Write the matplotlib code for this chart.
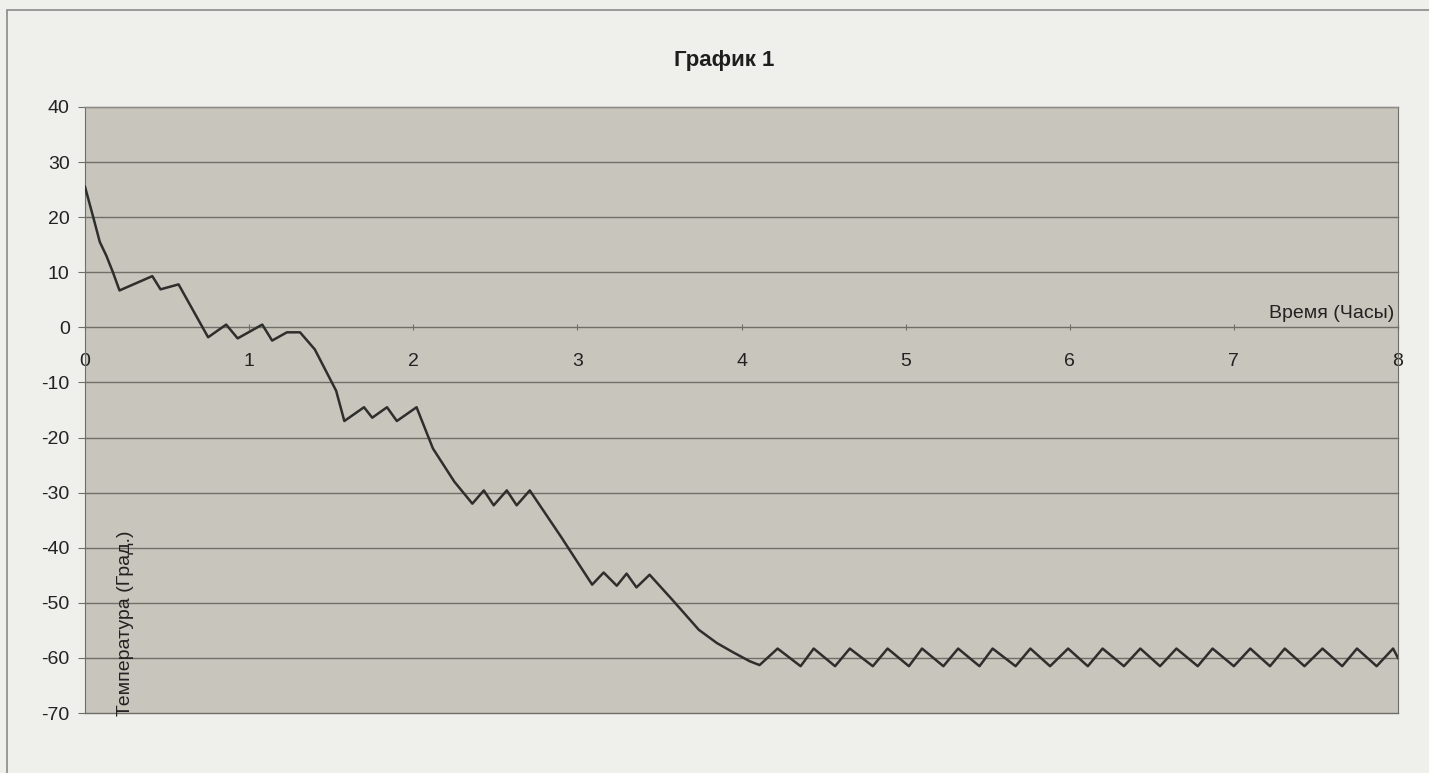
import matplotlib.pyplot as plt
from matplotlib.patches import Rectangle

# Temperature curve (hours, degrees)
time_h = [
    0.00, 0.05, 0.09, 0.13, 0.17, 0.21, 0.41, 0.46, 0.57, 0.66, 0.75,
    0.86, 0.93, 1.08, 1.14, 1.23, 1.31, 1.40, 1.53, 1.58, 1.70, 1.75,
    1.84, 1.90, 2.02, 2.12, 2.25, 2.36, 2.43, 2.49, 2.57, 2.63, 2.71,
    2.90, 3.09, 3.16, 3.24, 3.30, 3.36, 3.44, 3.58, 3.74, 3.85, 3.95,
    4.05, 4.11,
    4.22, 4.36, 4.44, 4.57, 4.66, 4.80, 4.89, 5.02, 5.10, 5.23, 5.32,
    5.45, 5.53, 5.67, 5.76, 5.88, 5.99, 6.11, 6.20, 6.33, 6.43, 6.55,
    6.65, 6.78, 6.87, 7.00, 7.10, 7.22, 7.31, 7.43, 7.54, 7.66, 7.75,
    7.87, 7.97, 8.00,
]
temp_c = [
    25.5, 20.0, 15.5, 13.0, 10.0, 6.7, 9.3, 6.9, 7.8, 3.0, -1.8,
    0.5, -2.0, 0.5, -2.4, -0.9, -0.9, -4.0, -11.5, -17.0, -14.5, -16.4,
    -14.5, -17.0, -14.5, -22.0, -28.0, -32.0, -29.6, -32.3, -29.6, -32.3, -29.6,
    -38.0, -46.7, -44.5, -46.9, -44.7, -47.2, -44.9, -49.5, -54.9, -57.3, -59.0,
    -60.6, -61.3,
    -58.3, -61.5, -58.3, -61.5, -58.3, -61.5, -58.3, -61.5, -58.3, -61.5, -58.3,
    -61.5, -58.3, -61.5, -58.3, -61.5, -58.3, -61.5, -58.3, -61.5, -58.3, -61.5,
    -58.3, -61.5, -58.3, -61.5, -58.3, -61.5, -58.3, -61.5, -58.3, -61.5, -58.3,
    -61.5, -58.3, -60.0,
]

x_ticks = [0, 1, 2, 3, 4, 5, 6, 7, 8]
y_ticks = [40, 30, 20, 10, 0, -10, -20, -30, -40, -50, -60, -70]

plt.rcParams['font.family'] = ['Liberation Sans', 'DejaVu Sans']

fig = plt.figure(figsize=(14.29, 7.73), dpi=100)
fig.patch.set_facecolor('#efefec')
ax = fig.add_axes([0.0595, 0.0776, 0.9188, 0.784])
ax.set_facecolor('#c8c5bc')

# thin frame of the chart object
fig.patches.append(Rectangle((0.005, -0.02), 1.2, 1.007, transform=fig.transFigure,
                             fill=False, edgecolor='#8a8a88', linewidth=1.2))

for y in y_ticks:
    if y != 0:
        ax.axhline(y, color='#6f6e69', linewidth=1.0, zorder=1, clip_on=False)

ax.plot(time_h, temp_c, color='#2e2e2c', linewidth=1.8, zorder=3)

ax.spines['bottom'].set_position(('data', 0))
ax.spines['bottom'].set_color('#6f6e69')
ax.spines['bottom'].set_linewidth(1.0)
ax.spines['top'].set_color('#8d8c88')
ax.spines['right'].set_color('#6f6e69')
ax.spines['left'].set_color('#6f6e69')

ax.set_xlim(0, 8)
ax.set_ylim(-70, 40)
ax.set_xticks(x_ticks)
ax.set_yticks(y_ticks)
ax.set_xticklabels([str(v) for v in x_ticks])
ax.set_yticklabels([str(v) for v in y_ticks])
ax.tick_params(axis='x', length=5, direction='inout', pad=16, color='#6f6e69',
               labelsize=14, labelcolor='#222222')
ax.tick_params(axis='y', length=5, direction='out', pad=6, color='#6f6e69',
               labelsize=14, labelcolor='#222222')

ax.text(7.98, 1.0, 'Время (Часы)', ha='right', va='bottom', fontsize=14, color='#222222')
ax.text(0.245, -70.6, 'Температура (Град.)', rotation=90, ha='center', va='bottom',
        fontsize=14, color='#222222')

fig.text(0.507, 0.922, 'График 1', ha='center', va='center', fontsize=16,
         fontweight='bold', family=['Liberation Sans Narrow', 'Liberation Sans'],
         color='#1e1e1e')

fig.savefig('out.png', dpi=100, facecolor=fig.get_facecolor())
